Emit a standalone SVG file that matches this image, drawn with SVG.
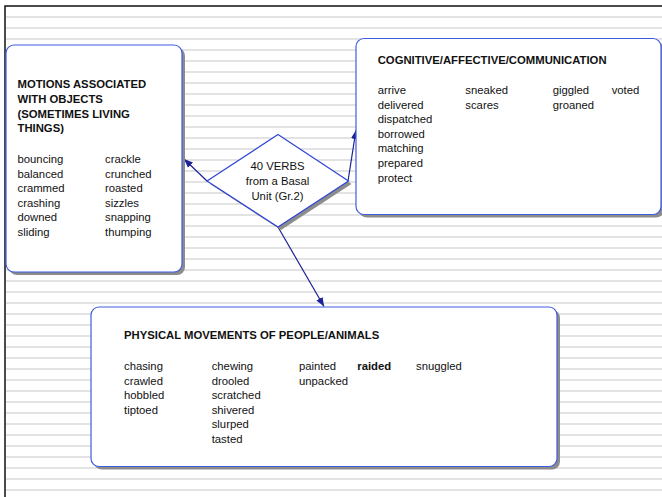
<svg xmlns="http://www.w3.org/2000/svg" width="662" height="497" viewBox="0 0 662 497">
  <style>
    .box { fill: #ffffff; stroke: #3f5ce0; stroke-width: 1.2; }
    .shadow { fill: #8c8c8c; }
    .hd { font-family: "Liberation Sans", Arial, sans-serif; font-size: 11.3px; font-weight: bold; fill: #111111; }
    .tx { font-family: "Liberation Sans", Arial, sans-serif; font-size: 11.3px; fill: #111111; }
    .b { font-weight: bold; }
    .link { stroke: #1c2396; stroke-width: 1.2; fill: none; }
  </style>
  <defs>
    <pattern id="stripes" x="0" y="16" width="662" height="11" patternUnits="userSpaceOnUse">
      <rect x="0" y="0" width="662" height="2" fill="#e3e3e3"/>
    </pattern>
    <marker id="arrow" viewBox="0 0 10 10" refX="10" refY="5" markerWidth="9" markerHeight="9" markerUnits="userSpaceOnUse" orient="auto">
      <path d="M0,1 L10,5 L0,9 Z" fill="#1c2396"/>
    </marker>
  </defs>

  <!-- page background with ruled lines -->
  <rect x="0" y="0" width="662" height="497" fill="#ffffff"/>
  <rect x="6" y="14" width="656" height="483" fill="url(#stripes)"/>
  <path d="M5,497 V6 H662" fill="none" stroke="#111111" stroke-width="1.5"/>

  <!-- connectors -->
  <g id="connectors">
    <line class="link" x1="207" y1="181" x2="184" y2="159" marker-end="url(#arrow)"/>
    <line class="link" x1="348" y1="181" x2="356" y2="130" marker-end="url(#arrow)"/>
    <line class="link" x1="278" y1="227" x2="324" y2="306.5" marker-end="url(#arrow)"/>
  </g>

  <!-- left category -->
  <g id="motions">
    <rect class="shadow" x="9" y="48" width="176" height="227" rx="8"/>
    <rect class="box" x="6" y="45" width="176" height="227" rx="8"/>
    <text class="hd" x="17.5" y="88">MOTIONS ASSOCIATED</text>
    <text class="hd" x="17.5" y="102.8">WITH OBJECTS</text>
    <text class="hd" x="17.5" y="117.6">(SOMETIMES LIVING</text>
    <text class="hd" x="17.5" y="132.2">THINGS)</text>
    <text class="tx" x="17.5" y="163">bouncing</text>
    <text class="tx" x="17.5" y="177.6">balanced</text>
    <text class="tx" x="17.5" y="192.2">crammed</text>
    <text class="tx" x="17.5" y="206.8">crashing</text>
    <text class="tx" x="17.5" y="221.4">downed</text>
    <text class="tx" x="17.5" y="236">sliding</text>
    <text class="tx" x="105" y="163">crackle</text>
    <text class="tx" x="105" y="177.6">crunched</text>
    <text class="tx" x="105" y="192.2">roasted</text>
    <text class="tx" x="105" y="206.8">sizzles</text>
    <text class="tx" x="105" y="221.4">snapping</text>
    <text class="tx" x="105" y="236">thumping</text>
  </g>

  <!-- central diamond -->
  <g id="verbs">
    <polygon class="shadow" points="281,137.5 351.5,184 281,230 210,184"/>
    <polygon points="278,134.5 348.5,181 278,227 207,181" fill="#ffffff" stroke="#2e44d6" stroke-width="1.2"/>
    <text class="tx" x="277.5" y="169.5" text-anchor="middle">40 VERBS</text>
    <text class="tx" x="277.5" y="184.7" text-anchor="middle">from a Basal</text>
    <text class="tx" x="277.5" y="199.8" text-anchor="middle">Unit (Gr.2)</text>
  </g>

  <!-- right category -->
  <g id="cognitive">
    <rect class="shadow" x="359" y="41.5" width="305" height="176" rx="8"/>
    <rect class="box" x="356" y="38.5" width="305" height="176" rx="8"/>
    <text class="hd" x="377.7" y="64">COGNITIVE/AFFECTIVE/COMMUNICATION</text>
    <text class="tx" x="377.7" y="94">arrive</text>
    <text class="tx" x="377.7" y="108.6">delivered</text>
    <text class="tx" x="377.7" y="123.2">dispatched</text>
    <text class="tx" x="377.7" y="137.8">borrowed</text>
    <text class="tx" x="377.7" y="152.4">matching</text>
    <text class="tx" x="377.7" y="167">prepared</text>
    <text class="tx" x="377.7" y="181.6">protect</text>
    <text class="tx" x="465.3" y="94">sneaked</text>
    <text class="tx" x="465.3" y="108.6">scares</text>
    <text class="tx" x="552.7" y="94">giggled</text>
    <text class="tx" x="552.7" y="108.6">groaned</text>
    <text class="tx" x="611.7" y="94">voted</text>
  </g>

  <!-- bottom category -->
  <g id="physical">
    <rect class="shadow" x="94" y="310" width="466" height="159.5" rx="8"/>
    <rect class="box" x="91" y="307" width="466" height="159.5" rx="8"/>
    <text class="hd" x="124" y="339">PHYSICAL MOVEMENTS OF PEOPLE/ANIMALS</text>
    <text class="tx" x="124" y="370">chasing</text>
    <text class="tx" x="124" y="384.6">crawled</text>
    <text class="tx" x="124" y="399.2">hobbled</text>
    <text class="tx" x="124" y="413.8">tiptoed</text>
    <text class="tx" x="211.7" y="370">chewing</text>
    <text class="tx" x="211.7" y="384.6">drooled</text>
    <text class="tx" x="211.7" y="399.2">scratched</text>
    <text class="tx" x="211.7" y="413.8">shivered</text>
    <text class="tx" x="211.7" y="428.4">slurped</text>
    <text class="tx" x="211.7" y="443">tasted</text>
    <text class="tx" x="299" y="370">painted</text>
    <text class="tx" x="299" y="384.6">unpacked</text>
    <text class="tx b" x="357.3" y="370">raided</text>
    <text class="tx" x="416" y="370">snuggled</text>
  </g>
</svg>
